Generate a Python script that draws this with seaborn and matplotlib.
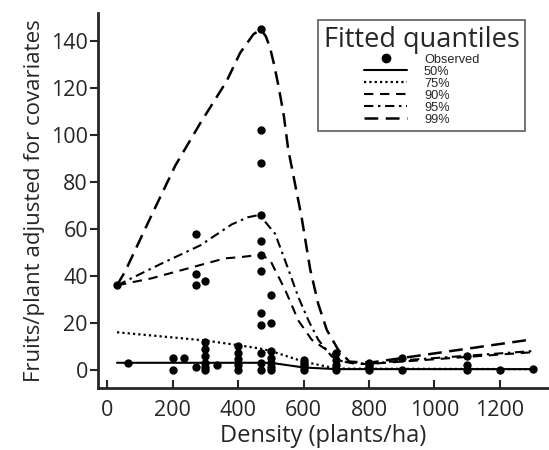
import matplotlib
matplotlib.use("Agg")
import matplotlib.pyplot as plt
from matplotlib.lines import Line2D
import seaborn as sns
import pandas as pd

# Observed fruits per plant (adjusted) at each planting density
obs_density = [30, 65, 200, 200, 235,
               270, 270, 270, 270,
               300, 300, 300, 300, 300, 300, 300,
               335,
               400, 400, 400, 400, 400,
               470, 470, 470, 470, 470, 470, 470, 470, 470, 470, 470, 470,
               500, 500, 500, 500, 500, 500, 500,
               600, 600, 600, 600, 600,
               700, 700, 700, 700,
               800, 800, 800, 800,
               900, 900,
               1100, 1100, 1100,
               1200, 1300]
obs_fruits = [36, 3, 5, 0, 5,
              58, 41, 36, 1,
              38, 12, 9, 6, 3, 1, 0,
              2,
              10, 7, 4.5, 2, 0,
              145, 102, 88, 66, 55, 49, 42, 24, 19, 7, 3, 0,
              32, 20, 8, 5, 3, 1, 0,
              4, 3, 2, 1, 0,
              7, 4, 2, 0,
              3, 2, 1, 0,
              5, 0,
              6, 2, 0,
              0, 0.5]

# Fitted quantile curves
q50_x = [30, 470, 500, 600, 700, 1300]
q50_y = [3, 3, 3, 1, 0.3, 0.3]

q75_x = [30, 300, 400, 470, 500, 600, 700, 1300]
q75_y = [16, 12.5, 10.5, 9, 8, 3.5, 0.5, 0.3]

q90_x = [30, 136, 162, 360, 406, 467, 497, 513, 544, 584, 625, 686, 706, 760, 800, 900, 1100, 1300]
q90_y = [36, 39, 40, 47.5, 48, 49, 47, 42.5, 34, 21, 12.8, 7, 4, 2.5, 2.5, 3.5, 5.5, 7.5]

q95_x = [30, 162, 284, 381, 430, 465, 513, 553, 584, 615, 645, 686, 720, 800, 900, 1100, 1300]
q95_y = [36, 45, 53, 62, 65, 66, 58, 43, 31, 21, 12.8, 5.7, 3.5, 2.5, 4, 6, 8]

q99_x = [30, 55, 136, 208, 284, 365, 406, 447, 470, 485, 498, 510, 524, 540, 553,
         594, 620, 645, 671, 706, 740, 800, 1300]
q99_y = [36, 42, 66, 87, 105, 123, 135, 143, 145, 142, 137, 130, 120.5, 108, 94,
         65, 43, 28, 17, 8.5, 3.5, 3, 13]

quantile_labels = ["50%", "75%", "90%", "95%", "99%"]
x_ticks = [0, 200, 400, 600, 800, 1000, 1200]
y_ticks = [0, 20, 40, 60, 80, 100, 120, 140]

sns.set_style("ticks")
plt.rcParams["font.family"] = ["Open Sans", "DejaVu Sans"]

fig = plt.figure(figsize=(5.49, 4.5), dpi=100)
ax = fig.add_axes([0.178, 0.138, 0.822, 0.833])

obs = pd.DataFrame({"density": obs_density, "fruits": obs_fruits})
sns.scatterplot(data=obs, x="density", y="fruits", ax=ax, color="black",
                s=36, edgecolor="black", linewidth=0, zorder=5)

styles = {
    "50%": dict(linestyle="-", linewidth=1.5),
    "75%": dict(linestyle=(0, (1.0, 1.4)), linewidth=1.6),
    "90%": dict(linestyle=(0, (4.5, 3.2)), linewidth=1.5),
    "95%": dict(linestyle=(0, (4.5, 2.2, 1.2, 2.2)), linewidth=1.5),
    "99%": dict(linestyle=(0, (5.5, 3.0)), linewidth=1.8),
}
curves = {
    "50%": (q50_x, q50_y),
    "75%": (q75_x, q75_y),
    "90%": (q90_x, q90_y),
    "95%": (q95_x, q95_y),
    "99%": (q99_x, q99_y),
}
for lab in quantile_labels:
    cx, cy = curves[lab]
    df = pd.DataFrame({"density": cx, "fruits": cy})
    sns.lineplot(data=df, x="density", y="fruits", ax=ax, color="black",
                 sort=False, estimator=None, zorder=3, **styles[lab])

ax.set_xlim(-29, 1350)
ax.set_ylim(-7.7, 152)
ax.set_xticks(x_ticks)
ax.set_yticks(y_ticks)
ax.tick_params(axis="x", direction="in", length=6, width=1.5, labelsize=15.5, pad=9)
ax.tick_params(axis="y", direction="out", length=6, width=1.5, labelsize=15.5, pad=1)
for side in ["top", "right"]:
    ax.spines[side].set_visible(False)
for side in ["left", "bottom"]:
    ax.spines[side].set_linewidth(2)
ax.set_xlabel("Density (plants/ha)", fontsize=17, labelpad=2)
ax.set_ylabel("Fruits/plant adjusted for covariates", fontsize=16, labelpad=4)

handles = [Line2D([], [], color="black", marker="o", markersize=6, linestyle="none")]
for lab in quantile_labels:
    handles.append(Line2D([], [], color="black", **styles[lab]))
leg = fig.legend(handles, ["Observed"] + quantile_labels, title="Fitted quantiles",
                 loc="upper left", bbox_to_anchor=(0.579, 0.956),
                 frameon=True, fancybox=False, edgecolor="#333333",
                 prop={"family": "Liberation Sans", "size": 9.2},
                 title_fontproperties={"family": "Open Sans", "size": 19.5},
                 handlelength=3.4, handletextpad=1.3, labelspacing=0.0,
                 borderpad=0.45, borderaxespad=0)
leg._legend_box.align = "center"
leg.get_frame().set_linewidth(1.2)

fig.savefig("out.png", dpi=100)
